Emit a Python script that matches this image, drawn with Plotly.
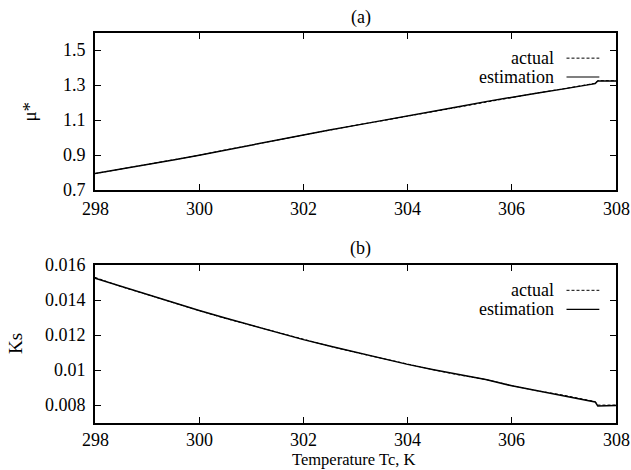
import plotly.graph_objects as go
from plotly.subplots import make_subplots

# Data
temp = [298.0, 298.5, 299.0, 299.5, 300.0, 300.5, 301.0, 301.5, 302.0, 302.5, 303.0,
        303.5, 304.0, 304.5, 305.0, 305.5, 306.0, 306.5, 307.0, 307.5, 307.6, 307.65, 308.0]
mu_est = [0.795, 0.820, 0.846, 0.873, 0.900, 0.929, 0.958, 0.988, 1.018, 1.045, 1.071,
          1.097, 1.123, 1.151, 1.179, 1.207, 1.233, 1.257, 1.280, 1.304, 1.310, 1.325, 1.325]
mu_act = [0.795, 0.821, 0.846, 0.872, 0.900, 0.930, 0.958, 0.989, 1.018, 1.044, 1.072,
          1.097, 1.124, 1.150, 1.180, 1.206, 1.234, 1.257, 1.281, 1.304, 1.312, 1.327, 1.327]
ks_est = [0.01525, 0.01478, 0.01432, 0.01386, 0.01341, 0.01298, 0.01256, 0.01215, 0.01175, 0.01139, 0.01104,
          0.01068, 0.01034, 0.01004, 0.00975, 0.00948, 0.00912, 0.00884, 0.00858, 0.00826, 0.00820, 0.00797, 0.00800]
ks_act = [0.01530, 0.01477, 0.01432, 0.01385, 0.01340, 0.01296, 0.01256, 0.01214, 0.01175, 0.01138, 0.01102,
          0.01068, 0.01035, 0.01003, 0.00973, 0.00948, 0.00913, 0.00883, 0.00858, 0.00826, 0.00822, 0.00802, 0.00802]

x_ticks = [298, 300, 302, 304, 306, 308]
x_ticktext = ["298", "300", "302", "304", "306", "308"]
mu_ticks = [0.7, 0.9, 1.1, 1.3, 1.5]
mu_ticktext = ["0.7", "0.9", "1.1", "1.3", "1.5"]
ks_ticks = [0.008, 0.010, 0.012, 0.014, 0.016]
ks_ticktext = ["0.008", "0.01", "0.012", "0.014", "0.016"]

FONT = "Liberation Serif"
TICKSIZE = 18

fig = make_subplots(rows=2, cols=1)

fig.add_trace(go.Scatter(x=temp, y=mu_act, mode="lines", name="actual",
                         line=dict(color="black", width=1, dash="3px,2px"), showlegend=False), row=1, col=1)
fig.add_trace(go.Scatter(x=temp, y=mu_est, mode="lines", name="estimation",
                         line=dict(color="black", width=1.5), showlegend=False), row=1, col=1)
fig.add_trace(go.Scatter(x=temp, y=ks_act, mode="lines", name="actual",
                         line=dict(color="black", width=1, dash="3px,2px"), showlegend=False), row=2, col=1)
fig.add_trace(go.Scatter(x=temp, y=ks_est, mode="lines", name="estimation",
                         line=dict(color="black", width=1.5), showlegend=False), row=2, col=1)

axis_common = dict(showgrid=False, zeroline=False, showline=True, linecolor="black", linewidth=1.5,
                   mirror="ticks", ticks="inside", ticklen=6, tickwidth=1.2, tickcolor="black",
                   automargin=False, showticklabels=False)

fig.update_xaxes(range=[298, 308], tickvals=x_ticks, **axis_common)
fig.update_yaxes(row=1, col=1, range=[0.7, 1.6], tickvals=mu_ticks, **axis_common)
fig.update_yaxes(row=2, col=1, range=[0.007, 0.016], tickvals=ks_ticks, **axis_common)

top_dom = [0.597, 1.0]
bot_dom = [0.0, 0.405]
fig.update_layout(
    width=631, height=470,
    margin=dict(l=95, r=15, t=33, b=47),
    paper_bgcolor="white", plot_bgcolor="white",
    font=dict(family=FONT, size=18, color="black"),
    yaxis=dict(domain=top_dom),
    yaxis2=dict(domain=bot_dom),
)

ann = []
# tick labels (serif text placed at the axes' own tick values)
for xa, ya, ys in [("x", "y", -19), ("x2", "y2", -17)]:
    for v, t in zip(x_ticks, x_ticktext):
        ann.append(dict(text=t, xref=xa, yref=ya + " domain", x=v, y=0, yshift=ys,
                        showarrow=False, xanchor="center", yanchor="middle",
                        font=dict(size=TICKSIZE)))
for ya, vals, texts in [("y", mu_ticks, mu_ticktext), ("y2", ks_ticks, ks_ticktext)]:
    xa = "x" if ya == "y" else "x2"
    for v, t in zip(vals, texts):
        ann.append(dict(text=t, xref=xa + " domain", yref=ya, x=0, y=v, xshift=-7,
                        showarrow=False, xanchor="right", yanchor="middle",
                        font=dict(size=TICKSIZE)))
# panel titles
ann.append(dict(text="(a)", xref="paper", yref="paper", x=0.51, y=1.0, yshift=16,
                showarrow=False, font=dict(size=18), xanchor="center", yanchor="middle"))
ann.append(dict(text="(b)", xref="paper", yref="paper", x=0.51, y=bot_dom[1], yshift=17,
                showarrow=False, font=dict(size=18), xanchor="center", yanchor="middle"))
# y titles
ann.append(dict(text="μ*", xref="paper", yref="paper", x=0, xshift=-65, y=(top_dom[0] + top_dom[1]) / 2,
                showarrow=False, textangle=-90, font=dict(size=19), xanchor="center", yanchor="middle"))
ann.append(dict(text="Ks", xref="paper", yref="paper", x=0, xshift=-80, y=(bot_dom[0] + bot_dom[1]) / 2,
                showarrow=False, textangle=-90, font=dict(size=19), xanchor="center", yanchor="middle"))
# x title
ann.append(dict(text="Temperature Tc, K", xref="paper", yref="paper", x=0.497, y=0, yshift=-36,
                showarrow=False, font=dict(size=16.5), xanchor="center", yanchor="middle"))

shapes = []
# legends (text left, sample line right)
for dom in (top_dom, bot_dom):
    for i, label in enumerate(["actual", "estimation"]):
        ann.append(dict(text=label, xref="paper", yref="paper", x=0.884, y=dom[1],
                        yshift=-25 - 19 * i, showarrow=False, xanchor="right", yanchor="middle",
                        font=dict(size=18)))
for xr, yr in [("x domain", "y domain"), ("x2 domain", "y2 domain")]:
    shapes.append(dict(type="line", xref=xr, yref=yr, x0=0.905, x1=0.968, y0=0.84, y1=0.84,
                       line=dict(color="black", width=1, dash="3px,2px")))
    shapes.append(dict(type="line", xref=xr, yref=yr, x0=0.905, x1=0.968, y0=0.72, y1=0.72,
                       line=dict(color="black", width=1.2)))

fig.update_layout(annotations=ann, shapes=shapes)

fig.write_html("out.html", config={"displayModeBar": False},
               post_script="document.body.style.margin='0';")
